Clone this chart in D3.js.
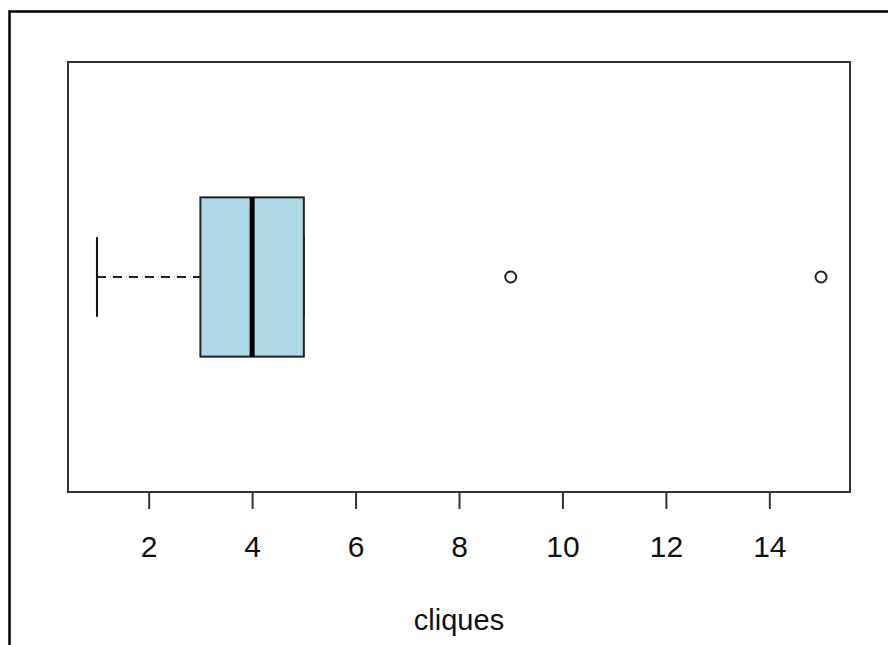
<!DOCTYPE html>
<html>
<head>
<meta charset="utf-8">
<script src="https://cdn.jsdelivr.net/npm/d3@7"></script>
<style>
  html, body { margin: 0; padding: 0; background: #fff; }
  svg { display: block; }
</style>
</head>
<body>
<div id="chart"></div>
<script>
// Box statistics for "cliques"
const statNames = ["lowerWhisker", "q1", "median", "q3", "upperWhisker"];
const statValues = [1, 3, 4, 5, 5];
const outliers = [9, 15];
const xTicks = [2, 4, 6, 8, 10, 12, 14];
const xLabel = "cliques";

const width = 888;
const height = 645;
const margin = { top: 62, right: 38, bottom: 153, left: 68 };

const stats = {};
statNames.forEach((n, i) => (stats[n] = statValues[i]));

const svg = d3
  .select("#chart")
  .append("svg")
  .attr("width", width)
  .attr("height", height);

// Outer frame (runs off the right and bottom edges)
svg
  .append("rect")
  .attr("x", 9.5)
  .attr("y", 11.5)
  .attr("width", width + 20)
  .attr("height", height + 20)
  .attr("fill", "none")
  .attr("stroke", "#000")
  .attr("stroke-width", 2.5);

// Scales, R style 4% padding
const allVals = statValues.concat(outliers);
const lo = d3.min(allVals), hi = d3.max(allVals);
const pad = (hi - lo) * 0.04;
const x = d3
  .scaleLinear()
  .domain([lo - pad, hi + pad])
  .range([margin.left, width - margin.right]);

const y = d3
  .scaleLinear()
  .domain([0.46, 1.54])
  .range([height - margin.bottom, margin.top]);

const font = "'Liberation Sans', Arial, sans-serif";

// Axis
const axis = d3.axisBottom(x).tickValues(xTicks).tickSize(17);
const gx = svg
  .append("g")
  .attr("transform", `translate(0, ${height - margin.bottom})`)
  .call(axis);
gx.select(".domain").remove();
gx.selectAll(".tick line").attr("stroke", "#333").attr("stroke-width", 2);
gx.selectAll(".tick text")
  .attr("y", 65)
  .attr("dy", 0)
  .attr("fill", "#111")
  .style("font-family", font)
  .style("font-size", "30px");

// Plot box
svg
  .append("rect")
  .attr("x", margin.left)
  .attr("y", margin.top)
  .attr("width", width - margin.left - margin.right)
  .attr("height", height - margin.top - margin.bottom)
  .attr("fill", "none")
  .attr("stroke", "#333")
  .attr("stroke-width", 2);

// Box plot
const cy = y(1);
const boxHalf = y(1) - y(1.2);
const capHalf = boxHalf / 2;

const g = svg.append("g");

// whiskers (dashed)
g.append("line")
  .attr("x1", x(stats.lowerWhisker))
  .attr("x2", x(stats.q1))
  .attr("y1", cy)
  .attr("y2", cy)
  .attr("stroke", "#222")
  .attr("stroke-width", 2)
  .attr("stroke-dasharray", "9,7");
g.append("line")
  .attr("x1", x(stats.q3))
  .attr("x2", x(stats.upperWhisker))
  .attr("y1", cy)
  .attr("y2", cy)
  .attr("stroke", "#222")
  .attr("stroke-width", 2)
  .attr("stroke-dasharray", "9,7");

// staples
[stats.lowerWhisker, stats.upperWhisker].forEach((v) => {
  g.append("line")
    .attr("x1", x(v))
    .attr("x2", x(v))
    .attr("y1", cy - capHalf)
    .attr("y2", cy + capHalf)
    .attr("stroke", "#111")
    .attr("stroke-width", 2);
});

// box
g.append("rect")
  .attr("x", x(stats.q1))
  .attr("y", cy - boxHalf)
  .attr("width", x(stats.q3) - x(stats.q1))
  .attr("height", boxHalf * 2)
  .attr("fill", "#add8e6")
  .attr("stroke", "#222")
  .attr("stroke-width", 2);

// median
g.append("line")
  .attr("x1", x(stats.median))
  .attr("x2", x(stats.median))
  .attr("y1", cy - boxHalf)
  .attr("y2", cy + boxHalf)
  .attr("stroke", "#000")
  .attr("stroke-width", 5);

// outliers
g.selectAll("circle")
  .data(outliers)
  .enter()
  .append("circle")
  .attr("cx", (d) => x(d))
  .attr("cy", cy)
  .attr("r", 5.5)
  .attr("fill", "none")
  .attr("stroke", "#222")
  .attr("stroke-width", 2);

// x label
svg
  .append("text")
  .attr("x", (margin.left + width - margin.right) / 2)
  .attr("y", 630)
  .attr("text-anchor", "middle")
  .attr("fill", "#111")
  .style("font-family", font)
  .style("font-size", "29px")
  .text(xLabel);
</script>
</body>
</html>
